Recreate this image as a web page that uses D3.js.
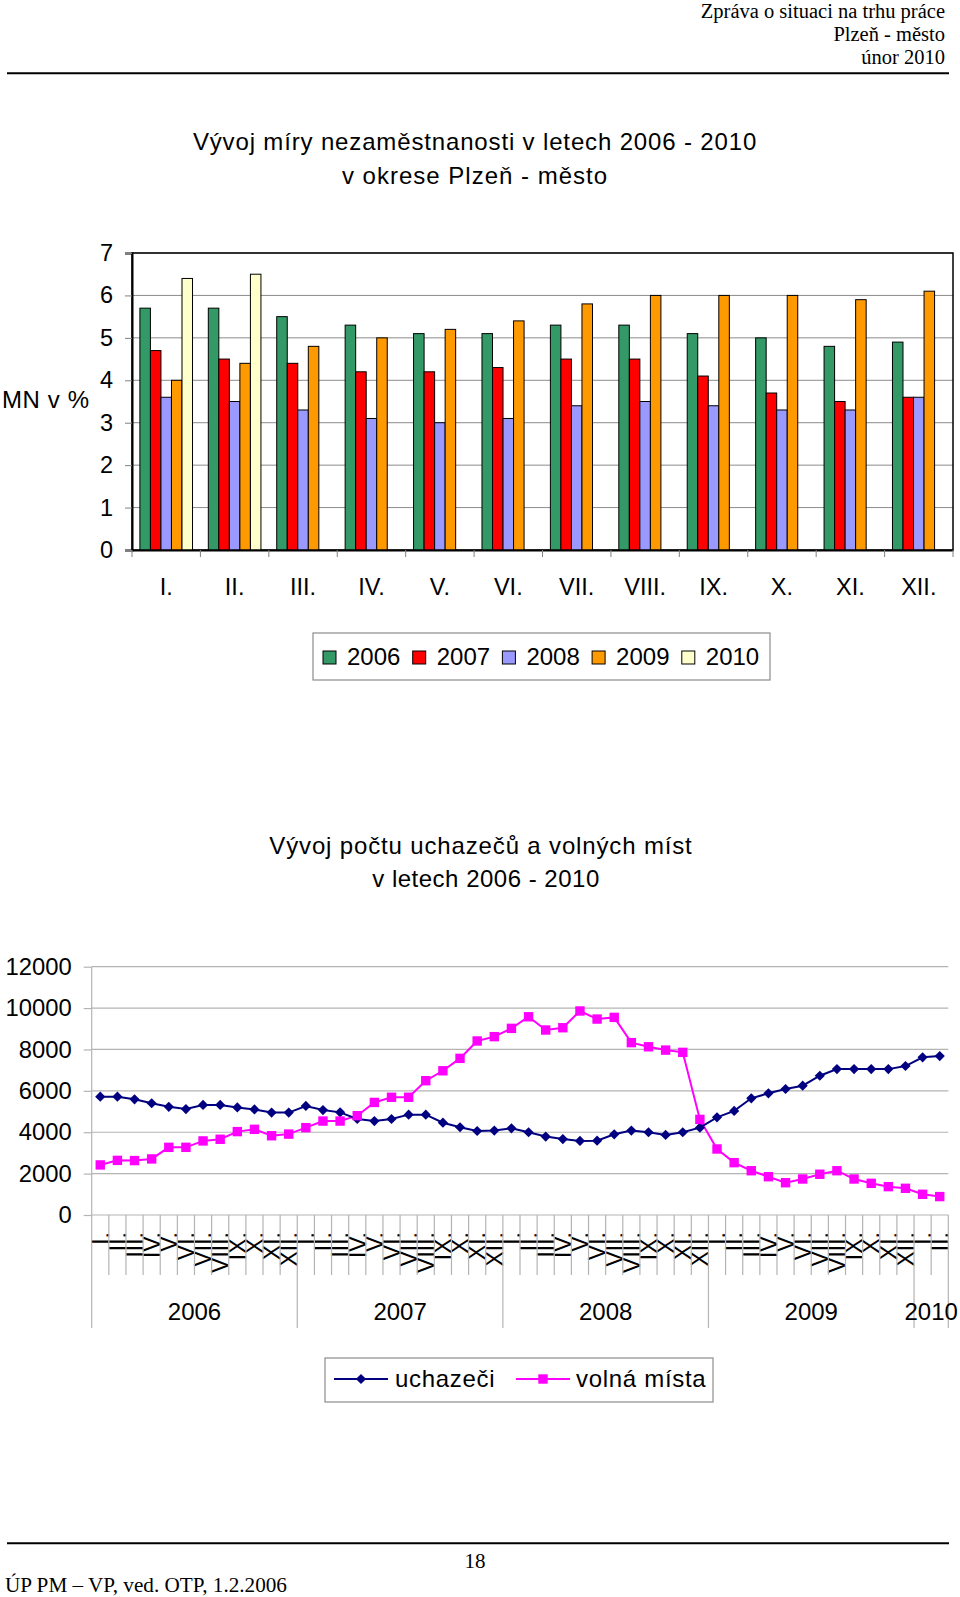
<!DOCTYPE html>
<html>
<head>
<meta charset="utf-8">
<script src="https://cdn.jsdelivr.net/npm/d3@7/dist/d3.min.js"></script>
<style>
  html, body { margin: 0; padding: 0; background: #fff; }
  svg { display: block; }
  .sans { font-family: "Liberation Sans", Arial, sans-serif; }
  .serif { font-family: "Liberation Serif", "Times New Roman", serif; }
</style>
</head>
<body>
<svg id="page" width="960" height="1597"></svg>
<script>
// ---------------- DATA ----------------
const months = ["I.", "II.", "III.", "IV.", "V.", "VI.", "VII.", "VIII.", "IX.", "X.", "XI.", "XII."];
const barYears = ["2006", "2007", "2008", "2009", "2010"];
const mn2006 = [5.7, 5.7, 5.5, 5.3, 5.1, 5.1, 5.3, 5.3, 5.1, 5.0, 4.8, 4.9];
const mn2007 = [4.7, 4.5, 4.4, 4.2, 4.2, 4.3, 4.5, 4.5, 4.1, 3.7, 3.5, 3.6];
const mn2008 = [3.6, 3.5, 3.3, 3.1, 3.0, 3.1, 3.4, 3.5, 3.4, 3.3, 3.3, 3.6];
const mn2009 = [4.0, 4.4, 4.8, 5.0, 5.2, 5.4, 5.8, 6.0, 6.0, 6.0, 5.9, 6.1];
const mn2010 = [6.4, 6.5];
const barYTicks = [0, 1, 2, 3, 4, 5, 6, 7];

const lineYears = ["2006", "2007", "2008", "2009", "2010"];
const lineYearMonths = [12, 12, 12, 12, 2];
const uchazeci = [
  5720, 5720, 5590, 5400, 5230, 5120, 5320, 5320, 5200, 5100, 4950, 4950,
  5270, 5070, 4960, 4640, 4540, 4640, 4850, 4850, 4460, 4240, 4060, 4080,
  4190, 4000, 3790, 3670, 3580, 3590, 3900, 4080, 4000, 3870, 4000, 4220,
  4720, 5030, 5640, 5880, 6090, 6250, 6730, 7050, 7050, 7050, 7050, 7200,
  7620, 7680
];
const volnaMista = [
  2420, 2640, 2630, 2710, 3270, 3270, 3580, 3660, 4030, 4140, 3830, 3910,
  4220, 4540, 4540, 4800, 5440, 5690, 5690, 6490, 6970, 7570, 8410, 8620,
  9020, 9580, 8940, 9050, 9860, 9470, 9550, 8330, 8130, 7970, 7860, 4620,
  3190, 2530, 2140, 1850, 1560, 1740, 1970, 2140, 1740, 1530, 1370, 1290,
  1000, 890
];
const lineYTicks = [0, 2000, 4000, 6000, 8000, 10000, 12000];
const lineSeriesNames = ["uchazeči", "volná místa"];

// ---------------- PAGE ----------------
const svg = d3.select("#page");
svg.append("rect").attr("width", 960).attr("height", 1597).attr("fill", "#fff");

// header
const header = ["Zpráva o situaci na trhu práce", "Plzeň - město", "únor 2010"];
svg.append("g").selectAll("text").data(header).join("text")
  .attr("class", "serif").attr("x", 945).attr("y", (d, i) => 18 + i * 23.2)
  .attr("text-anchor", "end").attr("font-size", 20.5).attr("fill", "#000").text(d => d);
svg.append("line").attr("x1", 7).attr("x2", 949).attr("y1", 73.3).attr("y2", 73.3)
  .attr("stroke", "#000").attr("stroke-width", 2);

// footer
svg.append("line").attr("x1", 7).attr("x2", 949).attr("y1", 1543.3).attr("y2", 1543.3)
  .attr("stroke", "#000").attr("stroke-width", 2);
svg.append("text").attr("class", "serif").attr("x", 475).attr("y", 1568)
  .attr("text-anchor", "middle").attr("font-size", 21).text("18");
svg.append("text").attr("class", "serif").attr("x", 5).attr("y", 1592)
  .attr("font-size", 21.2).text("ÚP PM – VP, ved. OTP, 1.2.2006");

// ---------------- BAR CHART ----------------
const bar = svg.append("g").attr("class", "sans");
bar.append("text").attr("x", 475).attr("y", 150).attr("text-anchor", "middle")
  .attr("font-size", 24).attr("letter-spacing", 0.85).text("Vývoj míry nezaměstnanosti v letech 2006 - 2010");
bar.append("text").attr("x", 475).attr("y", 184).attr("text-anchor", "middle")
  .attr("font-size", 24).attr("letter-spacing", 1.0).text("v okrese Plzeň - město");

const bL = 132, bR = 953, bT = 253, bB = 550;
const bx = d3.scaleBand().domain(months).range([bL, bR]).padding(0);
const by = d3.scaleLinear().domain([0, 7]).range([bB, bT]);
const gapOff = bx.bandwidth() * 0.75 / 6.5;
const bInner = d3.scaleBand().domain(barYears).range([gapOff, bx.bandwidth() - gapOff]).padding(0);
const barColors = d3.scaleOrdinal().domain(barYears)
  .range(["#339966", "#FF0000", "#9999FF", "#FF9900", "#FFFFCC"]);
const barSeries = [mn2006, mn2007, mn2008, mn2009, mn2010];

// grid
bar.append("g").selectAll("line").data(barYTicks.slice(1)).join("line")
  .attr("x1", bL).attr("x2", bR).attr("y1", d => by(d)).attr("y2", d => by(d))
  .attr("stroke", "#8c8c8c").attr("stroke-width", 1);
// plot border
bar.append("rect").attr("x", bL).attr("y", bT).attr("width", bR - bL).attr("height", bB - bT)
  .attr("fill", "none").attr("stroke", "#000").attr("stroke-width", 1.5);

// bars
const barData = [];
barSeries.forEach((vals, si) => vals.forEach((v, mi) => barData.push({ year: barYears[si], month: months[mi], v })));
bar.append("g").selectAll("rect").data(barData).join("rect")
  .attr("x", d => bx(d.month) + bInner(d.year))
  .attr("y", d => by(d.v))
  .attr("width", bInner.bandwidth())
  .attr("height", d => by(0) - by(d.v))
  .attr("fill", d => barColors(d.year))
  .attr("stroke", "#000").attr("stroke-width", 1);

// y axis
const byAxis = bar.append("g").attr("transform", `translate(${bL},0)`)
  .call(d3.axisLeft(by).tickValues(barYTicks).tickSize(7).tickPadding(12).tickFormat(d3.format("d")));
byAxis.select(".domain").attr("stroke", "#000").attr("stroke-width", 2);
byAxis.selectAll(".tick line").attr("stroke", "#808080");
byAxis.selectAll("text").attr("font-size", 23.5).attr("font-family", "Liberation Sans, Arial, sans-serif").attr("fill", "#000");

// x axis
const bxAxis = bar.append("g").attr("transform", `translate(0,${bB})`)
  .call(d3.axisBottom(bx).tickSize(0).tickPadding(28));
bxAxis.select(".domain").attr("stroke", "#000").attr("stroke-width", 2);
bxAxis.selectAll("text").attr("font-size", 23.5).attr("font-family", "Liberation Sans, Arial, sans-serif").attr("fill", "#000");
// category boundary ticks
const bBound = months.map(m => bx(m)).concat([bR]);
bar.append("g").selectAll("line").data(bBound).join("line")
  .attr("x1", d => d).attr("x2", d => d).attr("y1", bB).attr("y2", bB + 7)
  .attr("stroke", "#808080").attr("stroke-width", 1);

bar.append("text").attr("x", 2).attr("y", 408).attr("font-size", 24).attr("letter-spacing", 0.6).text("MN v %");

// legend
const bLeg = bar.append("g");
bLeg.append("rect").attr("x", 313).attr("y", 633).attr("width", 457).attr("height", 47)
  .attr("fill", "#fff").attr("stroke", "#8c8c8c").attr("stroke-width", 1.2);
const bLegItems = bLeg.selectAll("g.item").data(barYears).join("g").attr("class", "item")
  .attr("transform", (d, i) => `translate(${323 + i * 89.7},0)`);
bLegItems.append("rect").attr("x", 0).attr("y", 651).attr("width", 13).attr("height", 13)
  .attr("fill", d => barColors(d)).attr("stroke", "#000").attr("stroke-width", 1);
bLegItems.append("text").attr("x", 24).attr("y", 664.5).attr("font-size", 24).text(d => d);

// ---------------- LINE CHART ----------------
const lc = svg.append("g").attr("class", "sans");
lc.append("text").attr("x", 481).attr("y", 854).attr("text-anchor", "middle")
  .attr("font-size", 24).attr("letter-spacing", 0.85).text("Vývoj počtu uchazečů a volných míst");
lc.append("text").attr("x", 486).attr("y", 887).attr("text-anchor", "middle")
  .attr("font-size", 24).attr("letter-spacing", 0.5).text("v letech 2006 - 2010");

const lL = 91.7, lR = 948.3, lT = 966.7, lB = 1215;
const idx = d3.range(uchazeci.length);
const lx = d3.scaleBand().domain(idx).range([lL, lR]).padding(0);
const ly = d3.scaleLinear().domain([0, 12000]).range([lB, lT]);
const gridCol = "#b4b4b4";

lc.append("g").selectAll("line").data(lineYTicks).join("line")
  .attr("x1", lL).attr("x2", lR).attr("y1", d => ly(d)).attr("y2", d => ly(d))
  .attr("stroke", gridCol).attr("stroke-width", 1.2);

const lyAxis = lc.append("g").attr("transform", `translate(${lL},0)`)
  .call(d3.axisLeft(ly).tickValues(lineYTicks).tickSize(8).tickPadding(12).tickFormat(d3.format("d")));
lyAxis.select(".domain").remove();
lyAxis.selectAll(".tick line").attr("stroke", gridCol).attr("stroke-width", 1.2);
lyAxis.selectAll("text").attr("font-size", 23.8).attr("font-family", "Liberation Sans, Arial, sans-serif").attr("fill", "#000");

// left axis line extended through category area
lc.append("line").attr("x1", lL).attr("x2", lL).attr("y1", lT).attr("y2", 1328)
  .attr("stroke", gridCol).attr("stroke-width", 1.2);

// category labels (months), multi-level
const catMonths = [];
const yearBounds = [];
let acc = 0;
lineYearMonths.forEach((n, yi) => {
  yearBounds.push({ year: lineYears[yi], start: acc, n });
  for (let k = 0; k < n; k++) catMonths.push(months[k]);
  acc += n;
});
const lxAxis = lc.append("g").attr("transform", `translate(0,${lB})`)
  .call(d3.axisBottom(lx).tickSize(0).tickFormat(i => catMonths[i]));
lxAxis.select(".domain").remove();
lxAxis.selectAll("text")
  .attr("font-size", 23).attr("font-family", "Liberation Sans, Arial, sans-serif").attr("fill", "#000")
  .attr("text-anchor", "end").attr("transform", "translate(0,17) rotate(-90)")
  .attr("x", 0).attr("y", 0).attr("dy", "0.36em");

// inner category ticks
const innerB = idx.slice(1).filter(i => !yearBounds.some(y => y.start === i));
lc.append("g").selectAll("line").data(innerB).join("line")
  .attr("x1", i => lx(i)).attr("x2", i => lx(i)).attr("y1", lB).attr("y2", 1275)
  .attr("stroke", gridCol).attr("stroke-width", 1.2);
// year boundaries
const yb = yearBounds.slice(1).map(y => lx(y.start)).concat([lR]);
lc.append("g").selectAll("line").data(yb).join("line")
  .attr("x1", d => d).attr("x2", d => d).attr("y1", lB).attr("y2", 1328)
  .attr("stroke", gridCol).attr("stroke-width", 1.2);
// year labels
lc.append("g").selectAll("text").data(yearBounds).join("text")
  .attr("x", d => (lx(d.start) + lx(d.start + d.n - 1) + lx.bandwidth()) / 2)
  .attr("y", 1320).attr("text-anchor", "middle").attr("font-size", 24).text(d => d.year);

// lines
const lineGen = d3.line().x((d, i) => lx(i) + lx.bandwidth() / 2).y(d => ly(d));
lc.append("path").datum(volnaMista).attr("d", lineGen)
  .attr("fill", "none").attr("stroke", "#FF00FF").attr("stroke-width", 2);
lc.append("path").datum(uchazeci).attr("d", lineGen)
  .attr("fill", "none").attr("stroke", "#000080").attr("stroke-width", 2);

const diamond = d3.symbol().type(d3.symbolSquare).size(52);
lc.append("g").selectAll("path").data(uchazeci).join("path")
  .attr("d", diamond())
  .attr("transform", (d, i) => `translate(${lx(i) + lx.bandwidth() / 2},${ly(d)}) rotate(45)`)
  .attr("fill", "#000080");
lc.append("g").selectAll("rect").data(volnaMista).join("rect")
  .attr("x", (d, i) => lx(i) + lx.bandwidth() / 2 - 4.7)
  .attr("y", d => ly(d) - 4.7)
  .attr("width", 9.4).attr("height", 9.4).attr("fill", "#FF00FF");

// legend
const lLeg = lc.append("g");
lLeg.append("rect").attr("x", 325).attr("y", 1358).attr("width", 388).attr("height", 44)
  .attr("fill", "#fff").attr("stroke", "#8c8c8c").attr("stroke-width", 1.2);
const legCols = ["#000080", "#FF00FF"];
const legX = [334, 516];
const legTextX = [395, 576];
lineSeriesNames.forEach((name, i) => {
  lLeg.append("line").attr("x1", legX[i]).attr("x2", legX[i] + 54).attr("y1", 1379).attr("y2", 1379)
    .attr("stroke", legCols[i]).attr("stroke-width", 2);
  if (i === 0) {
    lLeg.append("path").attr("d", diamond()).attr("transform", `translate(${legX[i] + 27},1379) rotate(45)`)
      .attr("fill", legCols[i]);
  } else {
    lLeg.append("rect").attr("x", legX[i] + 27 - 4.7).attr("y", 1379 - 4.7).attr("width", 9.4).attr("height", 9.4)
      .attr("fill", legCols[i]);
  }
  lLeg.append("text").attr("x", legTextX[i]).attr("y", 1387).attr("font-size", 24)
    .attr("letter-spacing", 0.7).text(name);
});
</script>
</body>
</html>
